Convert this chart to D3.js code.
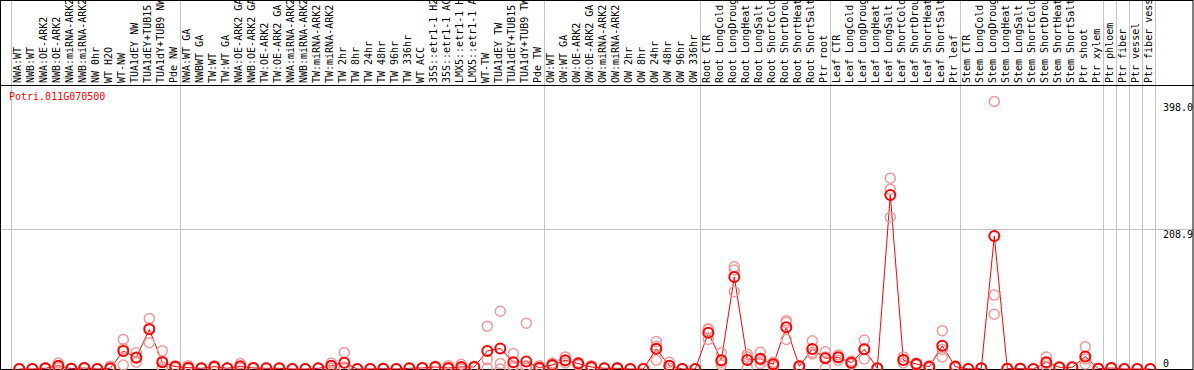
<!DOCTYPE html>
<html>
<head>
<meta charset="utf-8">
<script src="https://cdn.jsdelivr.net/npm/d3@7"></script>
<style>
  html, body { margin: 0; padding: 0; background: #fff; }
  svg { display: block; }
  text { font-family: "DejaVu Sans Mono", monospace; font-size: 10px; }
</style>
</head>
<body>
<svg id="chart"></svg>
<script>
const gene = 'Potri.011G070500';

const categories = [
  'NWA:WT', 'NWB:WT', 'NWA:OE-ARK2', 'NWB:OE-ARK2', 'NWA:miRNA-ARK2', 'NWB:miRNA-ARK2',
  'NW 0hr', 'WT H2O', 'WT-NW', 'TUA1dEY NW', 'TUA1dEY+TUB15 NW', 'TUA1dY+TUB9 NW', 'Pde NW',
  'NWA:WT GA', 'NWBWT GA', 'TW:WT', 'TW:WT GA', 'NWA:OE-ARK2 GA', 'NWB:OE-ARK2 GA',
  'TW:OE-ARK2', 'TW:OE-ARK2 GA', 'NWA:miRNA-ARK2', 'NWB:miRNA-ARK2', 'TW:miRNA-ARK2', 'TW:miRNA-ARK2',
  'TW 2hr', 'TW 8hr', 'TW 24hr', 'TW 48hr', 'TW 96hr', 'TW 336hr', 'WT ACC',
  '35S::etr1-1 H2O', '35S::etr1-1 ACC', 'LMX5::etr1-1 H2O', 'LMX5::etr1-1 ACC',
  'WT-TW', 'TUA1dEY TW', 'TUA1dEY+TUB15 TW', 'TUA1dY+TUB9 TW', 'Pde TW',
  'OW:WT', 'OW:WT GA', 'OW:OE-ARK2', 'OW:OE-ARK2 GA', 'OW:miRNA-ARK2', 'OW:miRNA-ARK2',
  'OW 2hr', 'OW 8hr', 'OW 24hr', 'OW 48hr', 'OW 96hr', 'OW 336hr',
  'Root CTR', 'Root LongCold', 'Root LongDrought', 'Root LongHeat', 'Root LongSalt',
  'Root ShortCold', 'Root ShortDrought', 'Root ShortHeat', 'Root ShortSalt', 'Ptr root',
  'Leaf CTR', 'Leaf LongCold', 'Leaf LongDrought', 'Leaf LongHeat', 'Leaf LongSalt',
  'Leaf ShortCold', 'Leaf ShortDrought', 'Leaf ShortHeat', 'Leaf ShortSalt', 'Ptr leaf',
  'Stem CTR', 'Stem LongCold', 'Stem LongDrought', 'Stem LongHeat', 'Stem LongSalt',
  'Stem ShortCold', 'Stem ShortDrought', 'Stem ShortHeat', 'Stem ShortSalt', 'Ptr shoot',
  'Ptr xylem', 'Ptr phloem', 'Ptr fiber', 'Ptr vessel', 'Ptr fiber vessel'
];

// mean expression per sample
const means = [
  0, 0, 1, 5, 0.5, 1.5, 0, 1, 26.8, 17, 59, 10, 3.5,
  2, 1, 3.5, 1, 4, 1.5, 1, 1, 0, 0, 1, 5, 9.4, 0, 0, 0.5, 0, 1, 1.5, 3, 1.5, 3, 3,
  26.8, 30.5, 10, 11, 2,
  6, 13, 8, 3, 1, 1, 0, 0, 30, 5, 0, 0,
  54, 12.9, 137, 13.4, 15.3, 7, 62, 4, 29.8, 15.9,
  17.4, 9.4, 29.3, 1, 258.9, 13.3, 7.4, 3.5, 34.5, 3.5,
  0, 1, 197.9, 0.5, 0.5, 0, 10, 2.5, 2.5, 18.5,
  0.5, 1.5, 0, 0, 0
];

// individual replicates per sample
const replicates = [
  [0, 0, 0], [0, 0, 0], [0, 1, 2], [9, 4, 2], [0, 1, 0], [2, 1, 1.5], [0, 0, 0], [4, 0, 0],
  [44, 6, 30], [24, 10, 16], [75, 61, 39], [27, 12, 3, 0], [5, 3, 2],
  [5, 1, 0], [1, 1, 1], [5, 3, 2], [1, 1, 1], [8, 3, 1], [2, 1, 1], [1, 1, 1], [1, 1, 1],
  [0, 0, 0], [0, 0, 0], [1, 1, 1], [9, 5, 1], [24.6, 3, 0.5], [0, 0, 0], [0, 0, 0],
  [1, 0, 0.5], [0, 0, 0], [1, 1, 1], [2, 1, 1.5], [4, 3, 2], [5, 0, 0], [7, 2, 0], [4, 3, 2],
  [63.7, 14, 1], [86, 8, 0], [23, 5, 2], [68, 5, 1], [5, 1, 0],
  [9, 5, 4], [18, 12, 9], [10, 8, 6], [5, 3, 1], [1, 1, 1], [2, 1, 0], [0, 0, 0], [0, 0, 0],
  [41, 34, 13], [10, 5, 1], [0, 0, 0], [0, 0, 0],
  [60, 58.8, 44], [24, 10, 6], [152, 147.3, 115], [18, 22, 1], [25, 13, 8], [10, 7, 4],
  [71.9, 69, 44], [5, 4, 2], [42, 25, 22.3], [25.7, 18, 1],
  [21, 17, 13], [12, 9, 7], [43, 30, 15], [1, 1, 1], [283.8, 267.4, 225.7], [18, 13, 9],
  [9, 7, 6], [5, 3, 2], [57, 29, 18], [5, 3, 2],
  [0, 0, 0], [1, 1, 1], [398, 110, 81.4], [1, 0.5, 0], [1, 0.5, 0], [0, 0, 0], [18, 8, 4],
  [3, 2.5, 2], [3, 2.5, 2], [33, 15, 7.4],
  [1, 0.5, 0], [2, 1.5, 1], [0, 0, 0], [0, 0, 0], [0, 0, 0]
];

// first sample of each group (vertical separators)
const groupStarts = [0, 13, 41, 53, 63, 73, 84, 85, 86, 87, 88];
const yTicks = [0, 208.9, 398.0];
const gridValues = [208.9];

const width = 1194, height = 370;
const labelBottom = 86;

const svg = d3.select('#chart')
  .attr('width', width)
  .attr('height', height);

const idx = d3.range(categories.length);
const x = d3.scaleBand().domain(idx).range([11.3, 1155.3]);
const cx = i => x(i) + 8;
const y = d3.scaleLinear().domain([0, 398]).range([369, 101.5]);

// grid
svg.append('g')
  .selectAll('line')
  .data(groupStarts)
  .join('line')
  .attr('x1', d => Math.round(d < categories.length ? x(d) : x.range()[1]) + 0.5)
  .attr('x2', d => Math.round(d < categories.length ? x(d) : x.range()[1]) + 0.5)
  .attr('y1', 0)
  .attr('y2', height)
  .attr('stroke', '#c4c4c4');

svg.append('g')
  .selectAll('line')
  .data(gridValues)
  .join('line')
  .attr('x1', 0)
  .attr('x2', width)
  .attr('y1', d => Math.round(y(d)) + 0.5)
  .attr('y2', d => Math.round(y(d)) + 0.5)
  .attr('stroke', '#c4c4c4');

// frame
svg.append('rect')
  .attr('x', 0.5).attr('y', 0.5)
  .attr('width', width - 1.5).attr('height', height - 1)
  .attr('fill', 'none').attr('stroke', '#000');
svg.append('line')
  .attr('x1', 0).attr('x2', width)
  .attr('y1', labelBottom - 0.5).attr('y2', labelBottom - 0.5)
  .attr('stroke', '#000');

// sample labels (long ones run off the top, as in the original)
svg.append('g')
  .selectAll('text')
  .data(idx)
  .join('text')
  .attr('transform', i => `translate(${cx(i) + 2},${labelBottom - 3}) rotate(-90)`)
  .attr('text-anchor', 'start')
  .attr('fill', '#000')
  .text(i => categories[i]);

// y axis labels
const axis = d3.axisRight(y)
  .tickValues(yTicks)
  .tickSize(0)
  .tickPadding(0)
  .tickFormat(d => d === 0 ? '0' : d.toFixed(1));
const axisG = svg.append('g')
  .attr('transform', 'translate(1163,0)')
  .call(axis);
axisG.select('.domain').remove();
axisG.selectAll('text')
  .attr('fill', '#000')
  .attr('font-family', '"DejaVu Sans Mono", monospace')
  .attr('font-size', 10)
  .attr('dy', d => d === 0 ? -3 : 9);

// title
svg.append('text')
  .attr('x', 9)
  .attr('y', 100)
  .attr('fill', '#ff0000')
  .text(gene);

// data
const body = svg.append('g');

const line = d3.line()
  .x(i => cx(i))
  .y(i => y(means[i]));
body.append('path')
  .attr('d', line(idx))
  .attr('fill', 'none')
  .attr('stroke', '#ff0000')
  .attr('stroke-width', 1);

const reps = idx.flatMap(i => replicates[i].map(v => ({ i, v })));
body.append('g')
  .selectAll('circle')
  .data(reps)
  .join('circle')
  .attr('cx', d => cx(d.i))
  .attr('cy', d => y(d.v))
  .attr('r', 5)
  .attr('fill', 'none')
  .attr('stroke', '#ee9a9a')
  .attr('stroke-width', 1.5);

body.append('g')
  .selectAll('circle')
  .data(idx)
  .join('circle')
  .attr('cx', i => cx(i))
  .attr('cy', i => y(means[i]))
  .attr('r', 5)
  .attr('fill', 'none')
  .attr('stroke', '#ff0000')
  .attr('stroke-width', 2);
</script>
</body>
</html>
